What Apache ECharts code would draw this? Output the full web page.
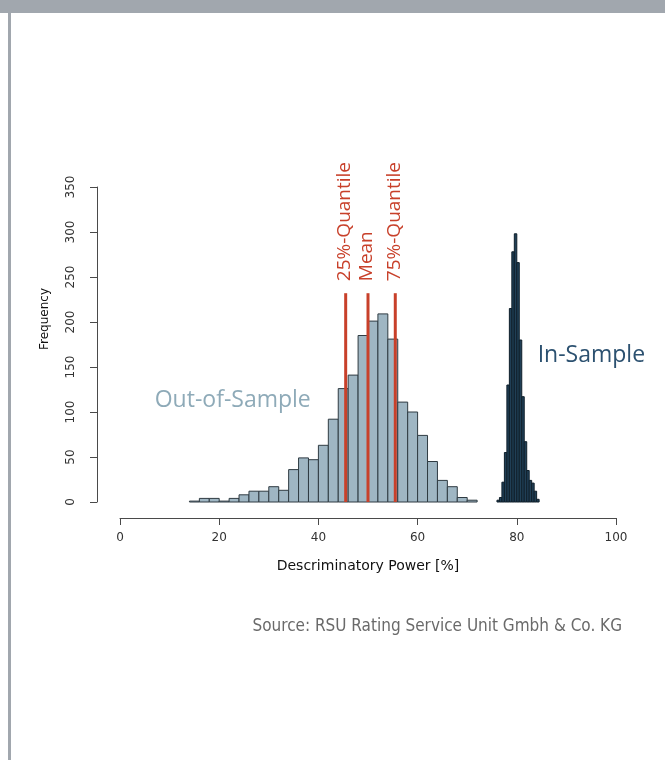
<!DOCTYPE html>
<html>
<head>
<meta charset="utf-8">
<script src="https://cdn.jsdelivr.net/npm/echarts@6/dist/echarts.min.js"></script>
<style>
  html, body { margin: 0; padding: 0; background: #ffffff; }
  #chart { width: 665px; height: 760px; }
</style>
</head>
<body>
<div id="chart"></div>
<script>
// Out-of-sample distribution: left bin edges (%) and frequencies, bin width 2
const oosBinWidth = 2;
const oosEdges = [14, 16, 18, 20, 22, 24, 26, 28, 30, 32, 34, 36, 38, 40, 42,
                  44, 46, 48, 50, 52, 54, 56, 58, 60, 62, 64, 66, 68, 70];
const oosCounts = [1, 4, 4, 1, 4, 8, 12, 12, 17, 13, 36, 49, 47, 63, 92,
                   126, 141, 185, 201, 209, 181, 111, 100, 74, 45, 24, 17, 5, 2];

// In-sample distribution: left bin edges (%) and frequencies, bin width 0.5
const insBinWidth = 0.5;
const insEdges = [76, 76.5, 77, 77.5, 78, 78.5, 79, 79.5, 80, 80.5,
                  81, 81.5, 82, 82.5, 83, 83.5, 84];
const insCounts = [2, 5, 22, 55, 130, 215, 278, 298, 266, 180,
                   117, 67, 35, 24, 21, 12, 3];

// Summary statistics of the out-of-sample distribution
const statLabels = ['25%-Quantile', 'Mean', '75%-Quantile'];
const statValues = [45.5, 50.0, 55.5];
const statLineTop = 232;

// Axis ticks
const xTicks = [0, 20, 40, 60, 80, 100];
const yTicks = [0, 50, 100, 150, 200, 250, 300, 350];

// Annotation texts placed in data space
const seriesNotes = [
  { text: 'Out-of-Sample', x: 7, y: 113, color: '#8eaab8' },
  { text: 'In-Sample', x: 84.2, y: 163, color: '#2c5170' }
];

function toBins(edges, counts, width) {
  return edges.map((e, i) => [e, e + width, counts[i]]);
}

function histItem(fill, stroke) {
  return function (params, api) {
    const lo = api.coord([api.value(0), api.value(2)]);
    const hi = api.coord([api.value(1), 0]);
    return {
      type: 'rect',
      shape: { x: lo[0], y: lo[1], width: hi[0] - lo[0], height: hi[1] - lo[1] },
      style: { fill: fill, stroke: stroke, lineWidth: 1 }
    };
  };
}

const chart = echarts.init(document.getElementById('chart'), null, { renderer: 'canvas' });

const axisColor = '#4a4a4a';
const tickFont = 'DejaVu Sans';

chart.setOption({
  animation: false,
  backgroundColor: '#ffffff',
  grid: { left: 120, right: 49, top: 187, bottom: 258 },
  xAxis: {
    type: 'value',
    min: xTicks[0],
    max: xTicks[xTicks.length - 1],
    interval: 20,
    offset: 16,
    splitLine: { show: false },
    axisLine: { show: true, onZero: false, lineStyle: { color: axisColor, width: 1 } },
    axisTick: { show: true, length: 7, lineStyle: { color: axisColor } },
    axisLabel: { margin: 14, color: '#333', fontFamily: tickFont, fontSize: 12 },
    name: 'Descriminatory Power [%]',
    nameLocation: 'middle',
    nameGap: 41,
    nameTextStyle: { color: '#111', fontFamily: tickFont, fontSize: 14 }
  },
  yAxis: {
    type: 'value',
    min: yTicks[0],
    max: yTicks[yTicks.length - 1],
    interval: 50,
    offset: 23,
    splitLine: { show: false },
    axisLine: { show: true, onZero: false, lineStyle: { color: axisColor, width: 1 } },
    axisTick: { show: true, length: 7, lineStyle: { color: axisColor } },
    axisLabel: { margin: 20, rotate: 90, color: '#333', fontFamily: tickFont, fontSize: 12 }
  },
  graphic: [
    { type: 'rect', left: 0, top: 0, shape: { width: 665, height: 13 }, style: { fill: '#a1a7ae' } },
    { type: 'rect', left: 8, top: 13, shape: { width: 3, height: 747 }, style: { fill: '#a1a7ae' } },
    {
      type: 'text', x: 45, y: 319, rotation: Math.PI / 2,
      style: { text: 'Frequency', fill: '#111', font: '12px "DejaVu Sans"', align: 'center', verticalAlign: 'middle' }
    },
    {
      type: 'text', x: 622, y: 627,
      style: { text: 'Source: RSU Rating Service Unit Gmbh & Co. KG', fill: '#6a6a6a',
               font: '17px "DejaVu Sans Condensed"', align: 'right', verticalAlign: 'middle' }
    }
  ],
  series: [
    {
      name: 'Out-of-Sample',
      type: 'custom',
      renderItem: histItem('#9fb6c3', '#2f3b42'),
      encode: { x: [0, 1], y: 2 },
      data: toBins(oosEdges, oosCounts, oosBinWidth),
      z: 2
    },
    {
      name: 'In-Sample',
      type: 'custom',
      renderItem: histItem('#203f56', '#0f1f2a'),
      encode: { x: [0, 1], y: 2 },
      data: toBins(insEdges, insCounts, insBinWidth),
      z: 2
    },
    {
      name: 'Statistics',
      type: 'custom',
      data: statValues.map((v, i) => [v, statLineTop, i]),
      encode: { x: 0, y: 1 },
      renderItem: function (params, api) {
        const top = api.coord([api.value(0), api.value(1)]);
        const base = api.coord([api.value(0), 0]);
        return {
          type: 'group',
          children: [
            {
              type: 'line',
              shape: { x1: base[0], y1: base[1], x2: top[0], y2: top[1] },
              style: { stroke: '#c8402a', lineWidth: 3 }
            },
            {
              type: 'text', x: top[0] - 1, y: top[1] - 12, rotation: Math.PI / 2,
              style: { text: statLabels[api.value(2)], fill: '#c8402a',
                       font: '19px "Open Sans"', align: 'left', verticalAlign: 'middle' }
            }
          ]
        };
      },
      z: 3
    },
    {
      name: 'Notes',
      type: 'custom',
      data: seriesNotes.map((n, i) => [n.x, n.y, i]),
      encode: { x: 0, y: 1 },
      renderItem: function (params, api) {
        const p = api.coord([api.value(0), api.value(1)]);
        const note = seriesNotes[api.value(2)];
        return {
          type: 'text', x: p[0], y: p[1],
          style: { text: note.text, fill: note.color, font: '23px "Open Sans"',
                   align: 'left', verticalAlign: 'middle' }
        };
      },
      z: 4
    }
  ]
});
</script>
</body>
</html>
